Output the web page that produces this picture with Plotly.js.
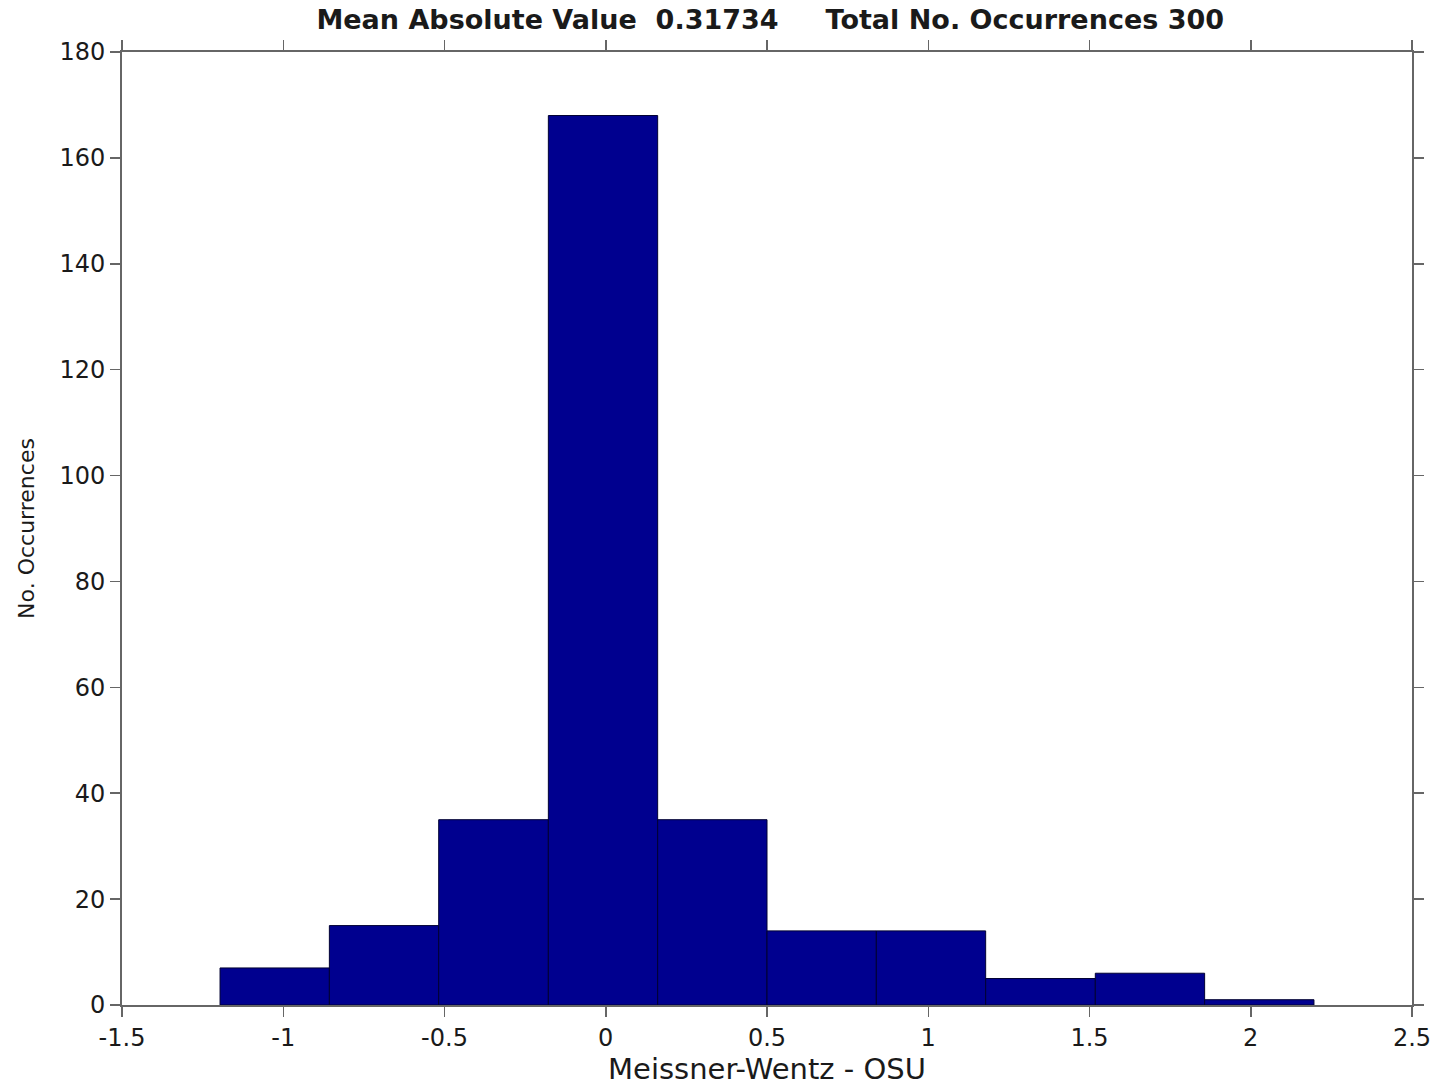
<!DOCTYPE html>
<html>
<head>
<meta charset="utf-8">
<script src="https://cdn.plot.ly/plotly-3.0.1.min.js"></script>
<style>
  html, body { margin: 0; padding: 0; background: #ffffff; }
  #chart { width: 1437px; height: 1091px; }
</style>
</head>
<body>
<div id="chart"></div>
<script>
// Histogram of Meissner-Wentz minus OSU differences (10 equal bins)
const binEdges = [-1.196, -0.857, -0.518, -0.178, 0.161, 0.500, 0.839, 1.178, 1.518, 1.857, 2.196];
const counts = [7, 15, 35, 168, 35, 14, 14, 5, 6, 1];
const meanAbsValue = "0.31734";
const totalCount = 300;
const xTickVals = [-1.5, -1, -0.5, 0, 0.5, 1, 1.5, 2, 2.5];
const yTickVals = [0, 20, 40, 60, 80, 100, 120, 140, 160, 180];

const centers = counts.map((_, i) => (binEdges[i] + binEdges[i + 1]) / 2);
const widths = counts.map((_, i) => binEdges[i + 1] - binEdges[i]);

const NB = '\u00A0';
const titleText = 'Mean Absolute Value' + NB + NB + meanAbsValue + NB.repeat(5) +
  'Total No. Occurrences ' + totalCount;

const axisColor = '#666666';
const textColor = '#1a1a1a';
const font = 'DejaVu Sans, Liberation Sans, Arial, sans-serif';

const trace = {
  type: 'bar',
  x: centers,
  y: counts,
  width: widths,
  marker: { color: '#00008f', line: { color: '#000033', width: 1 } },
  hoverinfo: 'x+y'
};

const layout = {
  width: 1437,
  height: 1091,
  margin: { l: 122, r: 25, t: 52, b: 86 },
  paper_bgcolor: '#ffffff',
  plot_bgcolor: '#ffffff',
  showlegend: false,
  bargap: 0,
  font: { family: font, color: textColor },
  title: {
    text: '<b>' + titleText + '</b>',
    font: { family: font, size: 27, color: textColor },
    x: 0.536, xanchor: 'center', y: 0.982, yanchor: 'middle'
  },
  xaxis: {
    range: [-1.5, 2.5],
    tickvals: xTickVals,
    ticktext: xTickVals.map(String),
    ticks: 'outside', ticklen: 10, tickwidth: 1.5, tickcolor: axisColor,
    showline: true, linecolor: axisColor, linewidth: 2, mirror: 'allticks',
    showgrid: false, zeroline: false,
    tickfont: { family: font, size: 24, color: textColor },
    title: { text: 'Meissner-Wentz - OSU', font: { family: font, size: 29, color: textColor }, standoff: 8 }
  },
  yaxis: {
    range: [0, 180],
    tickvals: yTickVals,
    ticks: 'outside', ticklen: 10, tickwidth: 1.5, tickcolor: axisColor,
    showline: true, linecolor: axisColor, linewidth: 2, mirror: 'allticks',
    showgrid: false, zeroline: false,
    tickfont: { family: font, size: 24, color: textColor },
    title: { text: 'No. Occurrences', font: { family: font, size: 22, color: textColor }, standoff: 19 }
  }
};

Plotly.newPlot('chart', [trace], layout, { displayModeBar: false, staticPlot: true });
</script>
</body>
</html>
